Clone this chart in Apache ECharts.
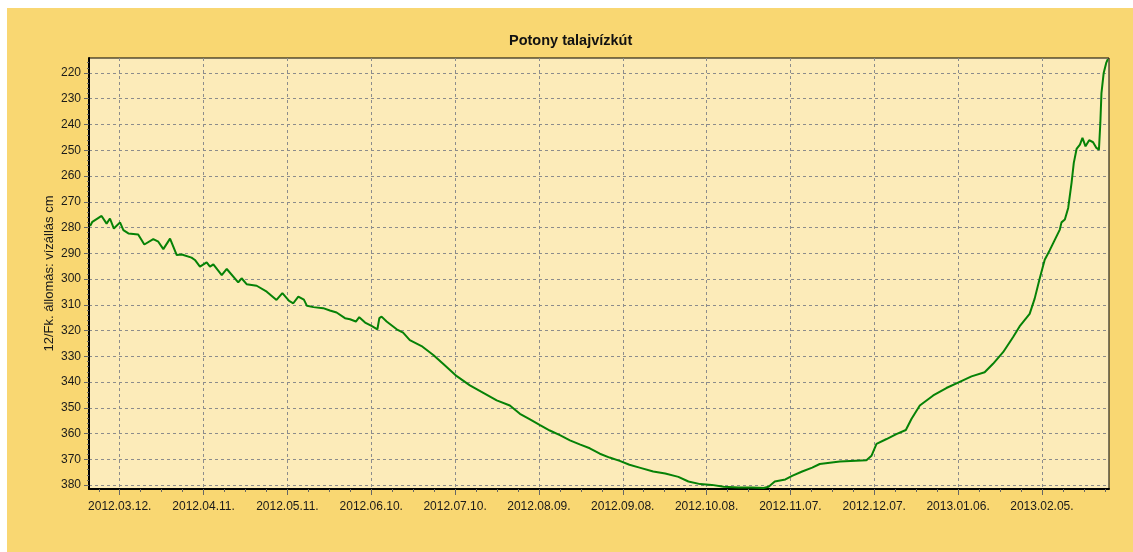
<!DOCTYPE html>
<html>
<head>
<meta charset="utf-8">
<title>Potony talajvízkút</title>
<script src="https://cdn.jsdelivr.net/npm/echarts@6/dist/echarts.min.js"></script>
<style>
  html, body { margin: 0; padding: 0; background: #fff; }
  #wrap { position: relative; width: 1133px; height: 552px; background: #fff; }
  #chart { position: absolute; left: 7px; top: 8px; width: 1126px; height: 544px; }
</style>
</head>
<body>
<div id="wrap"><div id="chart"></div></div>
<script>
// days counted from 2012.03.01.
var days = [
    0.4, 1.2, 4.5, 6.3, 7.5, 8.9, 11.1, 12.3, 14.1, 17.6, 19.8, 23.0, 24.8, 26.6, 29.0,
    31.4, 33.2, 36.7, 37.9, 39.7, 42.1, 43.3, 44.5, 47.5, 49.3, 53.4, 54.6, 56.4, 60.0,
    63.6, 67.1, 69.2, 71.6, 73.1, 74.9, 76.9, 78.0, 80.3, 83.8, 86.2, 88.6, 91.6, 93.4,
    95.5, 96.7, 98.8, 101.1, 103.2, 103.9, 104.7, 106.5, 110.1, 112.4, 114.8, 119.0,
    123.2, 126.8, 131.6, 136.3, 141.1, 145.9, 150.6, 154.2, 157.8, 161.4, 164.9, 168.5,
    172.1, 175.6, 179.2, 182.8, 186.3, 189.9, 193.4, 197.0, 201.9, 206.2, 210.9, 214.5,
    218.7, 222.9, 227.1, 232.5, 237.2, 241.4, 243.2, 245.4, 249.2, 251.6, 255.2, 258.8,
    261.5, 268.7, 278.2, 280.0, 281.8, 285.4, 288.9, 292.3, 294.3, 297.3, 302.1, 306.8,
    311.0, 315.8, 320.5, 323.5, 327.1, 330.7, 333.0, 336.6, 338.4, 340.2, 342.0, 343.8,
    347.4, 348.0, 349.2, 350.4, 351.6, 352.4, 353.4, 354.6, 355.5, 356.6, 357.9, 359.3,
    360.5, 361.4, 361.9, 362.3, 363.1, 364.0, 364.6
];
var levels = [
    279.4, 277.8, 275.5, 278.5, 276.5, 280.4, 278, 281, 282.3, 282.7, 286.6, 284.5, 285.5, 288.4, 284.3,
    290.7, 290.5, 291.7, 292.6, 295.2, 293.5, 295.2, 294.3, 298.5, 296.1, 301.3, 299.7, 302, 302.6,
    304.9, 308.1, 305.5, 308.5, 309.4, 306.8, 308, 310.4, 310.9, 311.3, 312.2, 313, 315.2, 315.6,
    316.5, 314.8, 316.9, 318.2, 319.5, 315.2, 314.6, 316.5, 319.5, 320.8, 323.7, 326,
    329.5, 333, 337.7, 341.3, 344.2, 347.1, 349.1, 352.3, 354.5, 356.7, 358.8, 360.6,
    362.6, 364.2, 365.7, 367.8, 369.3, 370.6, 372.1, 373.2, 374.7, 375.5, 376.8, 378.6,
    379.6, 379.9, 380.6, 380.9, 380.9, 381.1, 380.6, 378.6, 377.8, 376.4, 374.7, 373.2,
    371.8, 370.8, 370.3, 368.6, 364, 362.1, 360.2, 358.6, 354.3, 349.1, 345.2, 342.3,
    340.2, 337.8, 336.2, 332.9, 328.4, 322.5, 318.4, 313.5, 307.6, 299.8, 292.5, 288.8,
    280.8, 278, 276.9, 272.4, 262.7, 254.9, 249.5, 247.8, 245.2, 248.5, 246.1, 246.9,
    249.1, 249.8, 239.4, 227.8, 220, 216.1, 214.6
];

var tickDays = [11, 41, 71, 101, 131, 161, 191, 221, 251, 281, 311, 341];
var tickLabels = ['2012.03.12.', '2012.04.11.', '2012.05.11.', '2012.06.10.', '2012.07.10.',
    '2012.08.09.', '2012.09.08.', '2012.10.08.', '2012.11.07.', '2012.12.07.',
    '2013.01.06.', '2013.02.05.'];
var minorDays = [];
for (var d = 3.5; d <= 365; d += 7.5) minorDays.push(d);

var yTicks = [220, 230, 240, 250, 260, 270, 280, 290, 300, 310, 320, 330, 340, 350, 360, 370, 380];
var yMinor = [];
for (var m = 216; m <= 380; m += 2) yMinor.push(m);

var chart = echarts.init(document.getElementById('chart'));

var seriesData = days.map(function (d, i) { return [d, levels[i]]; });
var font = "'Liberation Sans', Arial, sans-serif";
var gridDash = { color: '#8c8c8c', type: [3, 3], width: 1 };

chart.setOption({
    animation: false,
    backgroundColor: '#F9D772',
    title: {
        text: 'Potony talajvízkút',
        left: 502,
        top: 25,
        padding: 0,
        textStyle: { fontFamily: font, fontSize: 14.5, fontWeight: 'bold', color: '#111' }
    },
    grid: {
        left: 82, top: 50, width: 1020, height: 431,
        show: true,
        backgroundColor: '#FCEBB9',
        borderColor: '#000',
        borderWidth: 1
    },
    xAxis: [
        {
            type: 'value',
            min: 0, max: 365,
            axisLine: { show: true, lineStyle: { color: '#000', width: 2 } },
            axisTick: { show: true, customValues: tickDays, length: 6, lineStyle: { color: '#666' } },
            axisLabel: {
                customValues: tickDays,
                margin: 12,
                fontFamily: font, fontSize: 12, color: '#1a1a1a',
                formatter: function (v) {
                    var i = tickDays.indexOf(Math.round(v));
                    return i >= 0 ? tickLabels[i] : '';
                }
            },
            splitLine: { show: true, lineStyle: gridDash }
        },
        {
            type: 'value',
            min: 0, max: 365,
            position: 'bottom',
            axisLine: { show: false },
            axisTick: { show: true, customValues: minorDays, length: 3, lineStyle: { color: '#666' } },
            axisLabel: { show: false },
            splitLine: { show: false }
        }
    ],
    yAxis: [
        {
            type: 'value',
            inverse: true,
            min: 214.2, max: 381.5,
            name: '12/Fk. állomás: vízállás cm',
            nameLocation: 'middle',
            nameGap: 33,
            nameRotate: 90,
            nameMoveOverlap: false,
            nameTextStyle: { fontFamily: font, fontSize: 13, color: '#1a1a1a' },
            axisLine: { show: true, lineStyle: { color: '#000', width: 2 } },
            axisTick: { show: true, customValues: yTicks, length: 5, lineStyle: { color: '#666' } },
            axisLabel: { customValues: yTicks, margin: 8, fontFamily: font, fontSize: 12, color: '#1a1a1a' },
            splitLine: { show: true, lineStyle: gridDash }
        },
        {
            type: 'value',
            inverse: true,
            min: 214.2, max: 381.5,
            position: 'left',
            axisLine: { show: false },
            axisTick: { show: true, customValues: yMinor, length: 2, lineStyle: { color: '#666' } },
            axisLabel: { show: false },
            splitLine: { show: false }
        }
    ],
    series: [
        {
            type: 'line',
            xAxisIndex: 0,
            yAxisIndex: 0,
            data: seriesData,
            showSymbol: false,
            lineStyle: { color: '#068206', width: 2 },
            clip: true
        }
    ]
});
</script>
</body>
</html>
